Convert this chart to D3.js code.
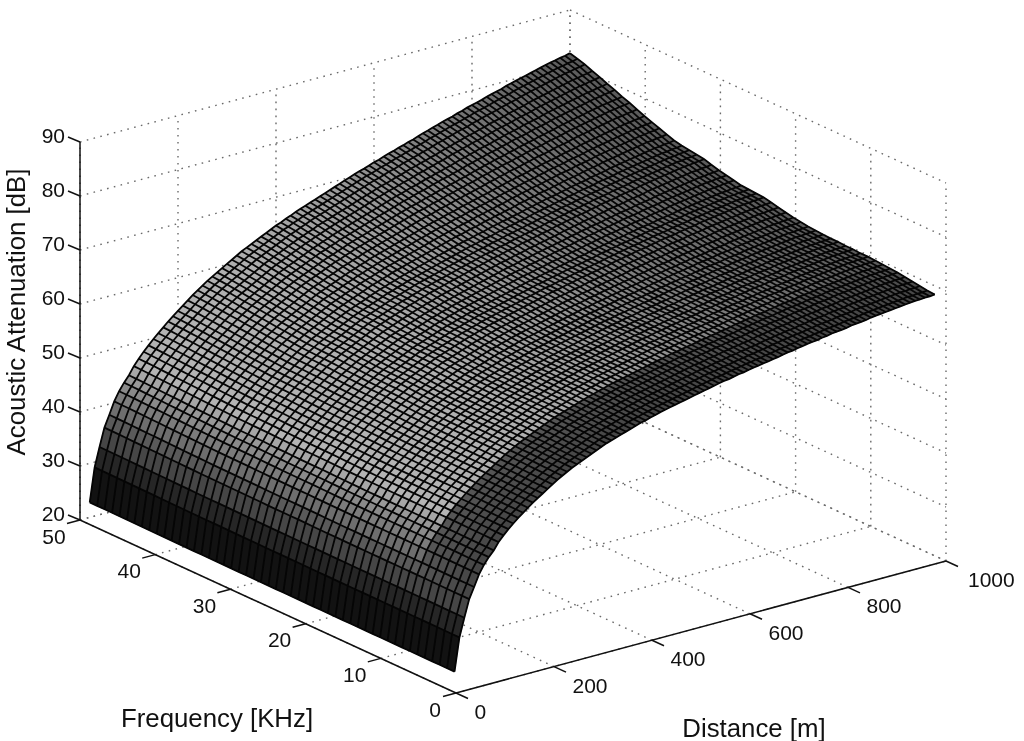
<!DOCTYPE html>
<html>
<head>
<meta charset="utf-8">
<script src="https://cdn.jsdelivr.net/npm/d3@7"></script>
<style>
  html, body { margin: 0; padding: 0; background: #fff; }
  svg { display: block; filter: blur(0.7px); }
  text { font-family: "Liberation Sans", sans-serif; fill: #111; }
</style>
</head>
<body>
<svg id="chart" width="1024" height="741"></svg>
<script>
const distanceTicks = [0, 200, 400, 600, 800, 1000];
const frequencyTicks = [0, 10, 20, 30, 40, 50];
const attenuationTicks = [20, 30, 40, 50, 60, 70, 80, 90];

const distanceGrid = d3.range(20, 1001, 10);
const frequencyGrid = d3.range(1.5, 50.02, 0.99);

const edgeLowFreq = [
  22.5, 28.6, 32.0, 35.2, 37.2, 39.3, 40.8, 42.0, 43.0, 44.3,
  45.3, 46.2, 47.0, 47.8, 48.5, 49.2, 49.9, 50.5, 51.1, 51.7,
  52.3, 52.9, 53.4, 53.9, 54.4, 54.8, 55.2, 55.6, 56.0, 56.4,
  56.8, 57.2, 57.5, 57.8, 58.1, 58.4, 58.7, 59.0, 59.3, 59.5,
  59.8, 60.0, 60.3, 60.5, 60.7, 60.9, 61.1, 61.3, 61.5, 61.7,
  61.9, 62.1, 62.3, 62.5, 62.7, 62.9, 63.0, 63.2, 63.4, 63.5,
  63.7, 63.9, 64.0, 64.2, 64.3, 64.5, 64.6, 64.8, 65.0, 65.1,
  65.3, 65.4, 65.6, 65.7, 65.8, 66.0, 66.1, 66.3, 66.4, 66.5,
  66.6, 66.8, 66.9, 67.0, 67.1, 67.3, 67.4, 67.5, 67.6, 67.7,
  67.8, 67.9, 68.0, 68.1, 68.2, 68.2, 68.3, 68.3, 68.4
];

const edgeFarRise = [
  0.0, 0.1, 0.3, 0.5, 0.7, 0.9, 1.0, 1.1, 1.2, 1.3,
  1.3, 1.4, 1.4, 1.5, 1.5, 1.6, 1.7, 1.8, 2.0, 2.2,
  2.5, 2.8, 3.1, 3.4, 3.5, 3.6, 3.7, 4.0, 4.3, 4.6,
  5.0, 5.4, 5.6, 5.8, 6.0, 6.3, 6.8, 7.3, 7.8, 8.3,
  8.9, 9.5, 10.0, 10.6, 11.1, 11.7, 12.2, 12.8, 13.2, 13.6
];

// surface table built from the two edges: the rise along frequency grows with distance
const surface = distanceGrid.map((d, i) =>
  frequencyGrid.map((f, j) => edgeLowFreq[i] + edgeFarRise[j] * d / 1000));

// ========== PROJECTION ==========
const origin = [456, 693];
const fX = d3.scaleLinear().domain([0, 50]).range([0, -376]);
const fY = d3.scaleLinear().domain([0, 50]).range([0, -173]);
const dX = d3.scaleLinear().domain([0, 1000]).range([0, 490]);
const dY = d3.scaleLinear().domain([0, 1000]).range([0, -132]);
const zY = d3.scaleLinear().domain([20, 90]).range([0, -378]);

function project(f, d, z) {
  return [origin[0] + fX(f) + dX(d), origin[1] + fY(f) + dY(d) + zY(z)];
}

const svg = d3.select("#chart");
const line = d3.line();

// ========== DOTTED GRID ==========
const gridLines = [];
distanceTicks.forEach(d => {
  gridLines.push([project(0, d, 20), project(50, d, 20)]);
  gridLines.push([project(50, d, 20), project(50, d, 90)]);
});
frequencyTicks.forEach(f => {
  gridLines.push([project(f, 0, 20), project(f, 1000, 20)]);
  gridLines.push([project(f, 1000, 20), project(f, 1000, 90)]);
});
attenuationTicks.forEach(z => {
  gridLines.push([project(50, 0, z), project(50, 1000, z)]);
  gridLines.push([project(50, 1000, z), project(0, 1000, z)]);
});

svg.append("g").selectAll("path")
  .data(gridLines)
  .join("path")
  .attr("d", line)
  .attr("fill", "none")
  .attr("stroke", "#6a6a6a")
  .attr("stroke-width", 1.4)
  .attr("stroke-dasharray", "1.6 5.4");

// ========== SURFACE ==========
const shadeByDistance = d3.scaleLinear()
  .domain([20, 30, 40, 60, 110, 300, 500, 700, 900, 1000])
  .range([18, 38, 70, 110, 180, 175, 155, 125, 100, 90])
  .clamp(true);
const shadeByFrequency = d3.scaleLinear()
  .domain([1.5, 7.5, 9])
  .range([70, 85, 255])
  .clamp(true);

const cells = [];
for (let i = 0; i < distanceGrid.length - 1; i++) {
  for (let j = 0; j < frequencyGrid.length - 1; j++) {
    const f0 = frequencyGrid[j], f1 = frequencyGrid[j + 1];
    const d0 = distanceGrid[i], d1 = distanceGrid[i + 1];
    cells.push({
      shade: Math.round(Math.min(shadeByDistance(d0), shadeByFrequency(f0))),
      points: [
        project(f0, d0, surface[i][j]),
        project(f1, d0, surface[i][j + 1]),
        project(f1, d1, surface[i + 1][j + 1]),
        project(f0, d1, surface[i + 1][j])
      ]
    });
  }
}

svg.append("g").selectAll("path")
  .data(cells)
  .join("path")
  .attr("d", c => line(c.points) + "Z")
  .attr("fill", c => `rgb(${c.shade},${c.shade},${c.shade})`)
  .attr("stroke", c => `rgb(${c.shade},${c.shade},${c.shade})`)
  .attr("stroke-width", 0.4);

const meshLines = [];
frequencyGrid.forEach((f, j) => {
  meshLines.push(distanceGrid.map((d, i) => project(f, d, surface[i][j])));
});
distanceGrid.forEach((d, i) => {
  meshLines.push(frequencyGrid.map((f, j) => project(f, d, surface[i][j])));
});

svg.append("g").selectAll("path")
  .data(meshLines)
  .join("path")
  .attr("d", line)
  .attr("fill", "none")
  .attr("stroke", "#050505")
  .attr("stroke-width", 1.8);

// ========== AXES ==========
const axisLines = [
  [project(50, 0, 20), project(50, 0, 90)],
  [project(50, 0, 20), project(0, 0, 20)],
  [project(0, 0, 20), project(0, 1000, 20)]
];
attenuationTicks.forEach(z => {
  const p = project(50, 0, z);
  axisLines.push([p, [p[0] - 12, p[1] - 5]]);
});
frequencyTicks.forEach(f => {
  const p = project(f, 0, 20);
  axisLines.push([p, [p[0] - 13, p[1] + 3.5]]);
});
distanceTicks.forEach(d => {
  const p = project(0, d, 20);
  axisLines.push([p, [p[0] + 12, p[1] + 5.5]]);
});

svg.append("g").selectAll("path")
  .data(axisLines)
  .join("path")
  .attr("d", line)
  .attr("fill", "none")
  .attr("stroke", "#111")
  .attr("stroke-width", 1.5);

// ========== LABELS ==========
svg.append("g").selectAll("text")
  .data(attenuationTicks)
  .join("text")
  .attr("x", 65)
  .attr("y", z => project(50, 0, z)[1] - 6.5)
  .attr("dy", "0.36em")
  .attr("text-anchor", "end")
  .attr("font-size", 21)
  .text(z => z);

svg.append("g").selectAll("text")
  .data(frequencyTicks)
  .join("text")
  .attr("x", f => project(f, 0, 20)[0] - (f === 0 ? 21 : 26))
  .attr("y", f => project(f, 0, 20)[1] + 16)
  .attr("dy", "0.36em")
  .attr("text-anchor", "middle")
  .attr("font-size", 21)
  .text(f => f);

svg.append("g").selectAll("text")
  .data(distanceTicks)
  .join("text")
  .attr("x", d => project(0, d, 20)[0] + (d === 1000 ? 22 : 18.5))
  .attr("y", d => project(0, d, 20)[1] + 18.5)
  .attr("dy", "0.36em")
  .attr("font-size", 21)
  .text(d => d);

svg.append("text").attr("x", 217).attr("y", 718).attr("dy", "0.36em")
  .attr("text-anchor", "middle").attr("font-size", 25.8).text("Frequency [KHz]");
svg.append("text").attr("x", 754).attr("y", 728).attr("dy", "0.36em")
  .attr("text-anchor", "middle").attr("font-size", 25.8).text("Distance [m]");
svg.append("text").attr("transform", "translate(16,312) rotate(-90)").attr("dy", "0.36em")
  .attr("text-anchor", "middle").attr("font-size", 25.8).text("Acoustic Attenuation [dB]");
</script>
</body>
</html>
